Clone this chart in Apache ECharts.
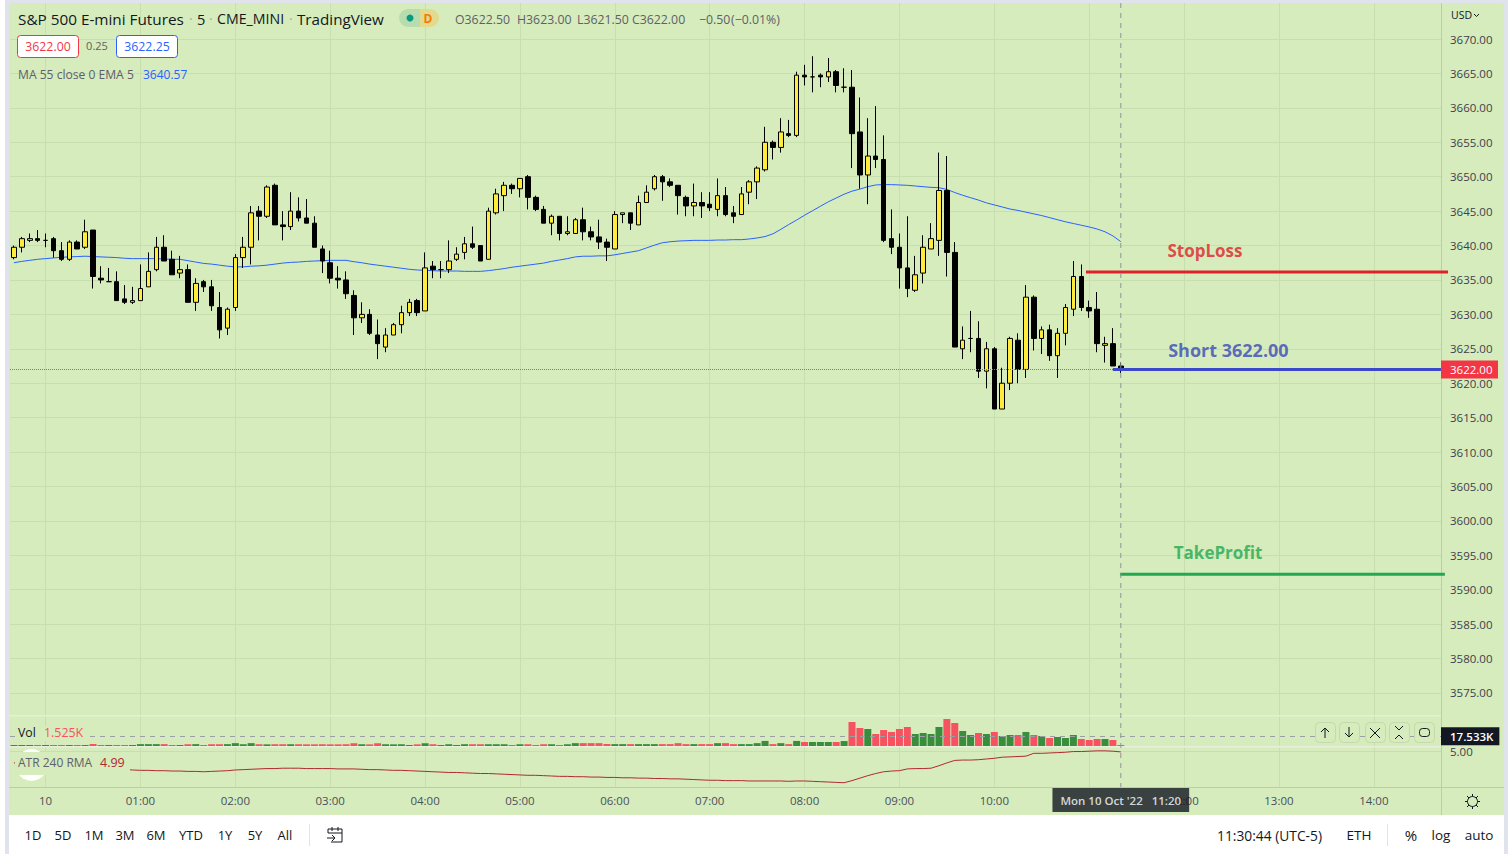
<!DOCTYPE html>
<html><head><meta charset="utf-8"><style>html,body{margin:0;padding:0;background:#fff}#c{width:1508px;height:854px}</style>
<script src="https://cdn.jsdelivr.net/npm/echarts@6/dist/echarts.min.js"></script></head><body><div id="c"></div>
<script>
// [open, close, low, high]
const ohlc = [
[3638.25,3639.75,3638,3640],[3639.75,3641,3639,3641.25],[3640.75,3641,3640.5,3641.75],[3641,3640.75,3640.5,3642.25],[3640.75,3640.75,3639.75,3641.75],
[3641,3639.25,3638.25,3641.25],[3639.25,3638,3637.75,3640.5],[3638,3640.5,3637.75,3640.75],[3640.5,3639.5,3639.5,3640.75],[3639.75,3642,3639.5,3643.75],
[3642.25,3635.5,3633.75,3642.25],[3635.25,3635,3634.5,3637],[3634.75,3634.75,3634.75,3636.75],[3634.75,3632,3632,3636.25],[3632.25,3631.75,3631.5,3634.25],
[3631.75,3632,3631.5,3634],[3632,3633.75,3632,3637.25],[3634,3636.25,3634,3639],[3636.5,3639.75,3636.25,3641.25],[3639.75,3637.75,3637.75,3641.5],
[3638,3635.75,3635.75,3639.25],[3636,3636.5,3635.25,3638.5],[3636.5,3631.75,3631.75,3637.25],[3631.75,3634.5,3630.5,3635.25],[3634.75,3634,3633.25,3635],
[3634,3631.25,3630.5,3635],[3631,3627.75,3626.5,3633.25],[3628,3630.75,3627,3631],[3631,3638.25,3630.5,3638.75],[3638.25,3639.75,3636.75,3641.25],
[3639.75,3644.75,3637.25,3645.75],[3645,3644.25,3640.75,3645.75],[3644.25,3648.5,3644,3648.75],[3648.75,3643,3643,3649],[3643,3642.75,3640.75,3645],
[3642.75,3645,3642.25,3647.75],[3645,3644,3643.5,3647],[3644,3643.25,3643.25,3646.75],[3643.25,3639.75,3639.75,3644.25],[3639.5,3637.75,3636,3640],
[3637.5,3635.25,3634.5,3639.25],[3635.25,3635,3633.75,3637],[3635,3633,3632.25,3636.25],[3632.75,3629.5,3627,3633.5],[3629.5,3630,3628.75,3631.75],
[3630,3627.25,3627,3630.75],[3627,3625.75,3623.5,3629.25],[3625.25,3627,3624.5,3628],[3627,3628.5,3627,3628.75],[3628.5,3630.25,3627.25,3631.25],
[3630.25,3631.75,3629.75,3632.25],[3632,3630.25,3629.75,3632.25],[3630.5,3636.75,3630.5,3639],[3637,3636.5,3635.25,3637.75],[3636.5,3636.5,3635.25,3637.75],
[3636.5,3637.75,3636,3640.75],[3638,3638.75,3637.75,3639.75],[3639,3640.25,3638,3641.25],[3640.25,3639.75,3639.5,3642.75],[3640,3637.75,3637.75,3640],
[3638,3645,3638,3645.5],[3644.75,3647.5,3644.5,3648.25],[3647.25,3648.75,3645,3649.25],[3648.75,3648.25,3647.5,3649],[3648.25,3649.75,3647,3649.75],
[3650,3647,3645.25,3650.25],[3647,3645.25,3645,3647.25],[3645.25,3643.25,3643.25,3645.75],[3643.25,3644.25,3641.5,3644.5],[3644.25,3641.75,3640.75,3644.25],
[3641.75,3642,3641.5,3644.25],[3641.75,3643.75,3641.75,3644],[3643.75,3642,3640.75,3645.5],[3642,3641.25,3640.75,3642.75],[3641.25,3640.5,3639.5,3643.75],
[3640.5,3639.75,3637.75,3641],[3639.5,3644.5,3639.5,3645],[3644.5,3644.75,3643.25,3644.75],[3644.75,3643.25,3642.25,3644.75],[3643,3646.25,3643,3647.25],
[3646.25,3647.75,3646.25,3648.75],[3648.25,3650,3648,3650.25],[3650,3649.25,3646.5,3650.25],[3649.25,3648.75,3648.5,3649.75],[3648.75,3647.25,3644.5,3648.75],
[3647,3645.75,3644.25,3647.25],[3645.75,3646.25,3644.25,3649],[3646.25,3645.75,3644,3647.75],[3646,3645.5,3645,3647.75],[3645.25,3647.25,3644.25,3649.75],
[3647.25,3644.5,3644.25,3648.5],[3644.75,3644.25,3643.25,3645.75],[3644.5,3647.5,3644.5,3648.5],[3647.75,3649.25,3646,3649.5],[3649.25,3651.25,3646.75,3651.5],
[3651,3655,3650.75,3657.25],[3655,3654.25,3652.5,3655.25],[3654.25,3656.5,3653.5,3658.5],[3656.25,3656,3655.75,3658.25],[3656,3664.75,3655.75,3665.25],
[3664.75,3664.5,3663.25,3666.25],[3664.5,3664.5,3662.25,3667.5],[3664.75,3664.5,3663,3665],[3664.5,3665.25,3663.75,3667.25],[3665.25,3663.25,3662.25,3665.5],
[3663,3663,3662.25,3665.75],[3663,3656.25,3651.25,3665.5],[3656.5,3650.25,3648.25,3661.5],[3650.25,3653,3646,3658.5],[3653,3652.5,3651.25,3660.25],
[3652.5,3640.75,3640.5,3656],[3641,3639.75,3638.75,3645.25],[3639.75,3636.75,3633.75,3641.75],[3636.75,3633.75,3632.5,3644.25],[3633.5,3635.75,3633.25,3638.5],
[3636,3639.75,3634.5,3641.5],[3639.5,3641,3639.5,3643.25],[3640.75,3648,3638.5,3653.5],[3648,3639,3635.5,3653],[3639,3625.25,3625.25,3640.5],
[3625,3626.25,3623.5,3628.25],[3626.5,3626.5,3624.5,3630.5],[3626.5,3621.75,3620.75,3629],[3621.75,3625,3619.25,3626],[3625,3616.25,3616.25,3625.25],
[3616.25,3620,3616.25,3622.25],[3620,3626.5,3619,3626.75],[3626.25,3622,3620,3627.25],[3622,3632.5,3620.75,3634.25],[3632.5,3626.5,3624.75,3632.75],
[3626.5,3627.75,3624.25,3628.25],[3627.75,3624,3623.25,3628.5],[3624,3627.25,3620.75,3628],[3627.25,3631,3625.5,3631.5],[3630.75,3635.5,3629.75,3637.75],
[3635.5,3631,3630.5,3637.25],[3631,3630.5,3629.5,3632],[3630.75,3625.75,3624.5,3633.25],[3625.5,3625.75,3623,3626.75],[3625.75,3622.5,3622.5,3628],
[3622.5,3622,3621.5,3623]];
const emaValues = [3637.5,3637.7,3637.85,3638,3638.1,3638.2,3638.3,3638.35,3638.4,3638.45,3638.4,3638.35,3638.3,3638.25,3638.15,3638.1,3638.1,3638.1,3638.1,3638.05,3638,3638,3637.8,3637.6,3637.4,3637.3,3637.15,3637,3636.9,3636.9,3637,3637.05,3637.15,3637.3,3637.45,3637.55,3637.6,3637.7,3637.75,3637.8,3637.85,3637.85,3637.85,3637.65,3637.5,3637.3,3637.15,3637,3636.85,3636.7,3636.55,3636.45,3636.4,3636.35,3636.3,3636.3,3636.3,3636.25,3636.25,3636.25,3636.35,3636.5,3636.65,3636.85,3637,3637.15,3637.3,3637.45,3637.7,3637.9,3638.1,3638.35,3638.45,3638.45,3638.5,3638.5,3638.65,3638.85,3639.05,3639.25,3639.65,3640.05,3640.4,3640.55,3640.65,3640.7,3640.75,3640.75,3640.75,3640.8,3640.8,3640.85,3640.85,3640.95,3641.1,3641.3,3641.7,3642.35,3643.05,3643.7,3644.4,3645.05,3645.7,3646.35,3646.9,3647.45,3647.9,3648.2,3648.55,3648.8,3648.85,3648.85,3648.8,3648.75,3648.65,3648.55,3648.45,3648.4,3648.15,3647.7,3647.3,3646.95,3646.6,3646.2,3645.9,3645.6,3645.3,3645.1,3644.85,3644.6,3644.35,3644.05,3643.75,3643.45,3643.2,3642.95,3642.7,3642.4,3642,3641.4,3640.57];
// thousands of contracts
const volumeK = [1.2,1.2,1.2,1.3,1.2,1.3,1.3,1.2,1.4,1.2,3.6,1.6,1.3,1.6,1.5,1.3,3.4,3.4,3.4,3.4,1.6,1.5,3.2,3.4,1.5,3.2,3.2,3.4,5.2,3.2,5.2,3.2,3,3.2,3.2,3.2,3.2,3,3,3.2,3,3,3.2,5,3.2,3,5,3.2,3,3.2,1.4,3,5,3.2,1.4,3.2,1.3,3.3,3.2,3.2,3.2,3.2,3.2,1.5,3.2,3.2,1.5,3.2,3.2,1.5,3.2,5.2,5.2,5.2,5.2,3.6,3.4,3.4,3.4,3.4,3.4,3.4,3.4,3.4,5.2,3.4,3.4,3.4,3.4,5.2,5.2,3.4,3.4,3.4,5.2,9.2,3.4,5.2,3.4,9.2,7.2,7.3,7.3,7.3,7.3,9,43.6,32.7,30.9,21.8,29,25.5,30.9,34.5,21.8,23.6,21.8,34.5,49,41.8,27.3,20,23.6,21.8,25.5,18.2,20,20,25.5,20,18.2,14.5,16.4,14.5,20,12.7,10.9,12.7,12.7,10.9,1.525];
const volumeDir = ('gggrgrrgrg'+'rrgrrggggr'+'rgrgrrrggg'+'grgrrgrrrr'+'rrrrgrrggg'+'grgrggggrr'+'gggrgrrrgr'+'ggrrrrggrg'+'ggrrrrgrrg'+'rrggggrgrg'+'rgggrgrrgr'+'rrrrggggrr'+'ggrgrggrgr'+'grgggrrrgr'+'r').split('');
const atrValues = [4.68,4.67,4.65,4.64,4.62,4.61,4.60,4.58,4.57,4.55,4.54,4.52,4.51,4.50,4.49,4.48,4.47,4.47,4.46,4.46,4.45,4.45,4.44,4.44,4.43,4.44,4.45,4.46,4.48,4.49,4.50,4.51,4.52,4.52,4.53,4.53,4.53,4.52,4.52,4.52,4.52,4.51,4.51,4.51,4.50,4.49,4.49,4.48,4.47,4.47,4.46,4.45,4.44,4.43,4.42,4.41,4.41,4.40,4.39,4.38,4.38,4.37,4.36,4.35,4.34,4.33,4.33,4.32,4.31,4.30,4.30,4.29,4.29,4.28,4.28,4.27,4.27,4.26,4.26,4.25,4.25,4.24,4.24,4.23,4.23,4.22,4.21,4.20,4.19,4.19,4.18,4.18,4.18,4.17,4.17,4.17,4.17,4.17,4.16,4.17,4.17,4.16,4.15,4.14,4.13,4.12,4.18,4.25,4.32,4.38,4.43,4.45,4.46,4.51,4.52,4.52,4.53,4.60,4.68,4.75,4.76,4.76,4.77,4.79,4.81,4.84,4.85,4.86,4.87,4.95,4.95,4.96,4.97,4.98,5.00,5.00,5.01,5.02,5.02,5.01,4.99];
const lastPrice = 3622.00;
const volumeLine = 17.533;
const stopLoss = {name:'StopLoss', price:3636.15, from:135.6, to:181.4, labelAt:[145.9,3639.3], size:17};
const shortEntry = {name:'Short 3622.00', price:3622.0, from:139, to:180.5, labelAt:[146,3624.8], size:18};
const takeProfit = {name:'TakeProfit', price:3592.25, from:139.9, to:181, labelAt:[146.7,3595.45], size:17};
const crosshairBar = 140;
const timeLabels = [];
for (let i=0;i<181;i++){const m=(23*60+40+5*i)%1440;timeLabels.push(String(Math.floor(m/60)).padStart(2,'0')+':'+String(m%60).padStart(2,'0'));}

const FONT='"Open Sans"';
const BG='#d6ecbc', GRID='#c7dfae', AXIS='#b7d09c', DARK='#131722', GREY='#5d606b';
const UP='#ffeb3b', VG='#388e3c', VR='#f7525f';
const gridX={left:10,width:1431};
const hourInterval=(i,v)=>v.endsWith(':00');
const hourLabelInterval=(i,v)=>v.endsWith(':00')&&v!=='11:00';

function T(text,x,y,fill,size,opt){opt=opt||{};return {type:'text',z:opt.z||60,silent:true,style:{text,x,y,fill,font:(opt.weight||'normal')+' '+size+'px '+FONT,textAlign:opt.align||'left',textVerticalAlign:'middle',align:opt.align||'left',verticalAlign:'middle'}};}
function R(x,y,w,h,fill,opt){opt=opt||{};return {type:'rect',z:opt.z===undefined?55:opt.z,silent:true,shape:{x,y,width:w,height:h,r:opt.r||0},style:{fill:fill,stroke:opt.stroke||null,lineWidth:opt.lw||1}};}
function P(points,stroke,lw,z){return {type:'polyline',z:z||60,silent:true,shape:{points},style:{stroke:stroke,lineWidth:lw||1,fill:null}};}

const g=[];
g.push(R(5,0,1503,854,'#e0e3eb',{z:-5}));
g.push(R(9,3,1495,812,BG,{z:-4,r:[4,4,0,0]}));
g.push(R(9,815,1495,39,'#ffffff',{z:-4}));
// dividers and axis borders
g.push(R(1441,3,1,812,AXIS,{z:1}));
g.push(R(9,787,1495,1,AXIS,{z:1}));
g.push(R(9,715,1432,1.5,'#e3efd6',{z:1}));
g.push(R(9,746,1432,1.5,'#e6f0da',{z:1}));
// header
g.push(T('S&P 500 E-mini Futures',18,18.5,DARK,15.3));
g.push(T('·',189,18.5,'#a3b09a',14));
g.push(T('5',197,18.5,DARK,14.6));
g.push(T('·',209,18.5,'#a3b09a',14));
g.push(T('CME_MINI',217,18.5,DARK,14.2));
g.push(T('·',289,18.5,'#a3b09a',14));
g.push(T('TradingView',297,18.5,DARK,15.2));
g.push(R(399,9,21,18,'#b7dcb0',{r:[9,0,0,9]}));
g.push(R(420,9,19,18,'#e3d98f',{r:[0,9,9,0]}));
g.push({type:'circle',z:60,silent:true,shape:{cx:410,cy:18,r:3.5},style:{fill:'#089981'}});
g.push(T('D',428,18,'#f57c00',12,{align:'center',weight:'bold'}));
[['O3622.50',455],['H3623.00',517],['L3621.50',577],['C3622.00',632],['−0.50',699],['(−0.01%)',731]].forEach(a=>g.push(T(a[0],a[1],19,GREY,12.3)));
g.push(R(17.5,35.5,61,22,'#ffffff',{r:3,stroke:'#f23645'}));
g.push(T('3622.00',48,46,'#f23645',12.3,{align:'center'}));
g.push(T('0.25',97,45.5,GREY,11,{align:'center'}));
g.push(R(116.5,35.5,61,22,'#ffffff',{r:3,stroke:'#2962ff'}));
g.push(T('3622.25',147,46,'#2962ff',12.3,{align:'center'}));
g.push(T('MA 55 close 0 EMA 5',18,74.5,GREY,12.1));
g.push(T('3640.57',143,74.5,'#2962ff',12));
// volume legend
g.push(R(15,726,72,15,BG,{z:54}));
g.push(T('Vol',18,732.5,DARK,12.3));
g.push(T('1.525K',44,732.5,VR,12.4));
// ATR legend with the badge behind it
g.push({type:'circle',z:53,silent:true,shape:{cx:31.5,cy:765,r:16},style:{fill:'#ffffff'}});
g.push(R(15,752,115,23,BG,{z:54}));
g.push(T('ATR 240 RMA',18,762.5,GREY,12));
g.push(T('4.99',100,762.5,'#b22833',12.5));
g.push(T('USD',1451,14.5,DARK,10.5));
g.push(P([[1474,14],[1476.5,16.5],[1479,14]],DARK,1));
// pane buttons
[[1315],[1339],[1365],[1389],[1414]].forEach(a=>g.push(R(a[0]+.5,722.5,20,20,BG,{r:4,stroke:'#c4d9ad',z:55})));
g.push(P([[1325,738],[1325,728]],DARK,1),P([[1321,732],[1325,728],[1329,732]],DARK,1));
g.push(P([[1349,727],[1349,737]],DARK,1),P([[1345,733],[1349,737],[1353,733]],DARK,1));
g.push(P([[1370,728],[1380,738]],DARK,1),P([[1380,728],[1370,738]],DARK,1));
g.push(P([[1395,726],[1399,730],[1403,726]],DARK,1),P([[1395,739],[1399,735],[1403,739]],DARK,1));
g.push(R(1419.5,728.5,10,8,'none',{r:3,stroke:DARK,z:60}));
// gear
g.push({type:'circle',z:60,silent:true,shape:{cx:1472.5,cy:801.5,r:5},style:{fill:'none',stroke:DARK,lineWidth:1}});
[[1472.5,794,1472.5,796.5],[1472.5,806.5,1472.5,809],[1465,801.5,1467.5,801.5],[1477.5,801.5,1480,801.5],[1467,796,1469,798],[1476,805,1478,807],[1478,796,1476,798],[1469,805,1467,807]].forEach(s=>g.push(P([[s[0],s[1]],[s[2],s[3]]],DARK,1)));
// bottom toolbar
[['1D',33],['5D',63],['1M',94],['3M',125],['6M',156],['YTD',191],['1Y',225],['5Y',255],['All',285]].forEach(a=>g.push(T(a[0],a[1],835,DARK,13,{align:'center'})));
g.push(R(309,824,1,22,'#e0e3eb'));
g.push(R(1387,824,1,22,'#e0e3eb'));
g.push(P([[328,833],[328,829],[342,829],[342,842],[331,842]],DARK,1));
g.push(P([[328,833],[342,833]],DARK,1),P([[332,827],[332,831]],DARK,1),P([[338,827],[338,831]],DARK,1));
g.push(P([[327,838],[335,838]],DARK,1),P([[332,835],[335,838],[332,841]],DARK,1));
g.push(T('11:30:44 (UTC-5)',1217,835,DARK,13.8));
g.push(T('ETH',1359,835,DARK,13.5,{align:'center'}));
g.push(T('%',1411,835,DARK,15,{align:'center'}));
g.push(T('log',1441,835,DARK,13.5,{align:'center'}));
g.push(T('auto',1479,835,DARK,13.5,{align:'center'}));

const hidden={show:false};
const hiddenCat=(gi)=>({type:'category',gridIndex:gi,data:timeLabels,show:false,boundaryGap:true});
const lvl=(o,color)=>({type:'line',xAxisIndex:4,yAxisIndex:4,showSymbol:false,symbol:'none',silent:true,clip:false,z:6,lineStyle:{color,width:3},data:[[o.from,o.price],[o.to,o.price]]});
const lbl=(o,color)=>({type:'scatter',xAxisIndex:4,yAxisIndex:4,symbolSize:0,silent:true,clip:false,z:7,data:[o.labelAt],
  label:{show:true,position:'right',distance:0,formatter:o.name,color,fontFamily:FONT,fontSize:o.size,fontWeight:700}});

const option={
 animation:false,
 graphic:{elements:g},
 grid:[
  {...gridX,top:4.6,height:722.8},
  {...gridX,top:717,height:29},
  {...gridX,top:748,height:39},
  {...gridX,top:3,height:784},
  {left:10,width:1439,top:4.6,height:722.8}
 ],
 xAxis:[hiddenCat(0),hiddenCat(1),hiddenCat(2),
  {type:'category',gridIndex:3,data:timeLabels,boundaryGap:true,
   axisLine:{show:false},axisTick:{show:false},
   axisLabel:{interval:hourLabelInterval,color:'#4a4f5c',fontFamily:FONT,fontSize:11.5,margin:7,hideOverlap:false,formatter:v=>v==='00:00'?'10':v},
   splitLine:{show:true,interval:hourInterval,alignWithLabel:true,lineStyle:{color:GRID,width:1}}},
  {type:'value',gridIndex:4,min:-0.5,max:181.52,show:false}
 ],
 yAxis:[
  {type:'value',gridIndex:0,position:'right',min:3570,max:3675,interval:5,axisLine:{show:false},axisTick:{show:false},
   axisLabel:{color:'#3c404c',fontFamily:FONT,fontSize:11.5,margin:9,padding:[0,0,4,0],showMinLabel:false,showMaxLabel:false,formatter:v=>v.toFixed(2)},
   splitLine:{show:true,showMinLine:false,showMaxLine:false,lineStyle:{color:GRID,width:1}}},
  {type:'value',gridIndex:1,min:0,max:52.7,show:false,splitLine:hidden},
  {type:'value',gridIndex:2,position:'right',min:4,max:5.1,interval:1,axisLine:{show:false},axisTick:{show:false},
   axisLabel:{color:'#3c404c',fontFamily:FONT,fontSize:11.5,margin:9,padding:[0,0,2,0],showMinLabel:false,showMaxLabel:false,formatter:v=>v.toFixed(2)},
   splitLine:{show:true,showMinLine:false,showMaxLine:false,lineStyle:{color:GRID,width:1}}},
  {type:'value',gridIndex:3,min:0,max:1,show:false,splitLine:hidden},
  {type:'value',gridIndex:4,min:3570,max:3675,show:false,splitLine:hidden}
 ],
 series:[
  {type:'line',name:'EMA',xAxisIndex:0,yAxisIndex:0,data:emaValues,showSymbol:false,symbol:'none',silent:true,z:2,lineStyle:{color:'#2962ff',width:1}},
  {type:'candlestick',name:'ES',xAxisIndex:0,yAxisIndex:0,data:ohlc,barWidth:5,silent:true,z:4,
   itemStyle:{color:UP,color0:'#000000',borderColor:'#000000',borderColor0:'#000000',borderColorDoji:'#000000',borderWidth:1},
   markLine:{silent:true,symbol:'none',animation:false,lineStyle:{color:'#d9574f',type:'dotted',width:1},
    label:{show:true,position:'end',distance:0,formatter:lastPrice.toFixed(2),color:'#fff',backgroundColor:'#f23645',fontFamily:FONT,fontSize:11.5,padding:[3,7,3,9],width:41},
    data:[{yAxis:lastPrice}]}},
  {type:'bar',name:'Vol',xAxisIndex:1,yAxisIndex:1,barWidth:7,barMinHeight:1,silent:true,z:3,
   data:volumeK.map((v,i)=>({value:v,itemStyle:{color:volumeDir[i]==='g'?VG:VR}})),
   markLine:{silent:true,symbol:'none',animation:false,lineStyle:{color:'#9a9ea6',type:[5,5],width:1},
    label:{show:true,position:'end',distance:0,formatter:volumeLine+'K',color:'#fff',backgroundColor:DARK,fontFamily:FONT,fontSize:11.5,fontWeight:600,padding:[3,6,3,9]},
    data:[{yAxis:volumeLine}]}},
  {type:'line',name:'ATR',xAxisIndex:2,yAxisIndex:2,data:atrValues,showSymbol:false,symbol:'none',silent:true,z:3,lineStyle:{color:'#b22833',width:1}},
  lvl(stopLoss,'#e0202a'),lvl(shortEntry,'#3b48cc'),lvl(takeProfit,'#22a84f'),
  lbl(stopLoss,'#e0202a'),lbl(shortEntry,'#3b48b8'),lbl(takeProfit,'#22a84f'),
  {type:'line',name:'crosshair',xAxisIndex:3,yAxisIndex:3,silent:true,showSymbol:false,symbol:'none',clip:false,z:8,
   lineStyle:{color:'#8f949c',type:[5,5],width:1},
   data:[[crosshairBar,1],[crosshairBar,0]]},
  {type:'scatter',name:'crosshairTag',xAxisIndex:3,yAxisIndex:3,silent:true,symbolSize:0,clip:false,z:9,
   data:[[crosshairBar,0]],
   label:{show:true,position:'bottom',distance:1,formatter:"Mon 10 Oct '22   11:20",color:'#fff',backgroundColor:DARK,fontFamily:FONT,fontSize:11.5,fontWeight:600,padding:[6,8,6,8]}}
 ]
};
const chart=echarts.init(document.getElementById('c'),null,{renderer:'svg',width:1508,height:854});
chart.setOption(option);
</script></body></html>
